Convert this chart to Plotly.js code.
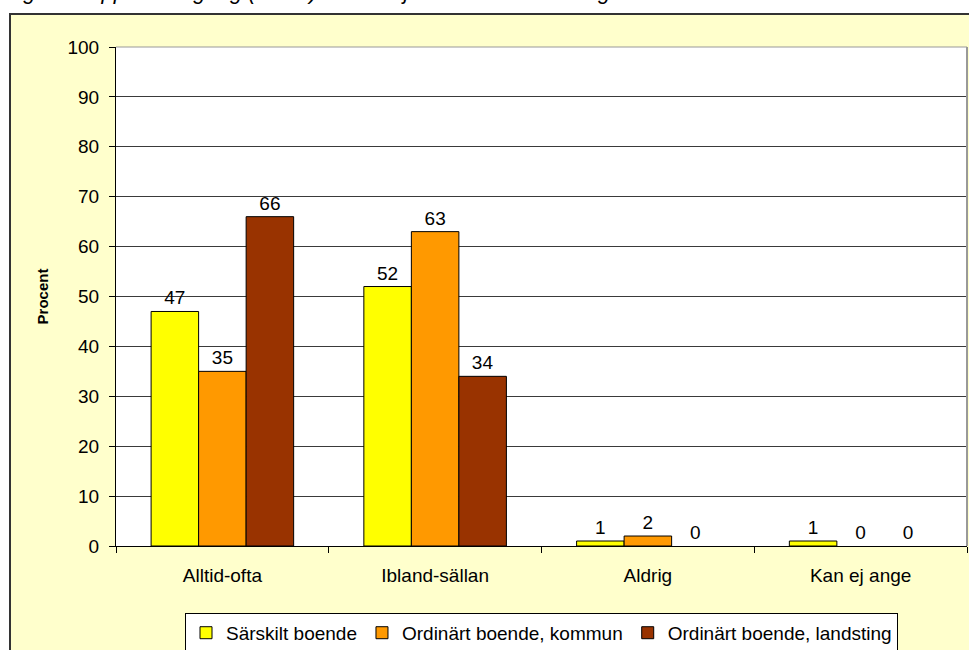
<!DOCTYPE html>
<html>
<head>
<meta charset="utf-8">
<script src="https://cdn.plot.ly/plotly-3.0.1.min.js"></script>
<style>
html,body{margin:0;padding:0;background:#fff;overflow:hidden;}
#wrap{position:relative;width:969px;height:650px;overflow:hidden;}
#frame{position:absolute;left:9px;top:13px;width:980px;height:660px;background:#FFFFCC;border:2px solid #333;box-sizing:border-box;}
#chart{position:absolute;left:0;top:0;width:969px;height:720px;}
</style>
</head>
<body>
<div id="wrap">
<div id="frame"></div>
<div id="chart"></div>
</div>
<script>
const categories = ["Alltid-ofta", "Ibland-sällan", "Aldrig", "Kan ej ange"];
const seriesNames = ["Särskilt boende", "Ordinärt boende, kommun", "Ordinärt boende, landsting"];
const serSarskilt = [47, 52, 1, 1];
const serKommun = [35, 63, 2, 0];
const serLandsting = [66, 34, 0, 0];
const colors = ["#FFFF00", "#FF9900", "#993300"];
const yTicks = [0,10,20,30,40,50,60,70,80,90,100];

const allSeries = [serSarskilt, serKommun, serLandsting];
const traces = allSeries.map((vals, i) => ({
  type: "bar",
  name: seriesNames[i],
  x: categories,
  y: vals,
  text: vals.map(String),
  textposition: "outside",
  cliponaxis: false,
  textfont: {family: "Liberation Sans, Arial, sans-serif", size: 19, color: "#000"},
  marker: {color: colors[i], line: {color: "#000", width: vals.map(v => v === 0 ? 0 : 1)}},
  hoverinfo: "x+y+name"
}));

const layout = {
  width: 969, height: 720,
  paper_bgcolor: "rgba(0,0,0,0)",
  plot_bgcolor: "#FFFFFF",
  margin: {l: 116, r: 2, t: 47, b: 174, pad: 0},
  barmode: "group",
  bargap: 0.33,
  bargroupgap: 0,
  font: {family: "Liberation Sans, Arial, sans-serif", size: 19, color: "#000"},
  showlegend: true,
  legend: {
    orientation: "h", x: 0.5, xanchor: "center", y: -0.134, yanchor: "top",
    bgcolor: "#FFFFFF", bordercolor: "#000", borderwidth: 1,
    font: {size: 19}, traceorder: "normal", itemwidth: 30
  },
  xaxis: {
    type: "category", automargin: false,
    showline: true, linecolor: "#000", linewidth: 1,
    ticks: "outside", tickson: "boundaries", ticklen: 6, tickcolor: "#000",
    showgrid: false, tickfont: {size: 19}, mirror: false,
    ticklabelstandoff: 12
  },
  yaxis: {
    range: [0, 100], tickvals: yTicks, ticktext: yTicks.map(String),
    automargin: false,
    showline: true, linecolor: "#000", linewidth: 1,
    ticks: "outside", ticklen: 6, tickcolor: "#000",
    showgrid: true, gridcolor: "#3a3a3a", gridwidth: 1,
    zeroline: false, tickfont: {size: 19},
    ticklabelstandoff: 6,
    title: {text: "<b>Procent</b>", font: {size: 15}, standoff: 15}
  },
  shapes: [
    {type: "line", xref: "paper", yref: "paper", x0: 0, x1: 1, y0: 1, y1: 1, line: {color: "#999", width: 1}},
    {type: "line", xref: "paper", yref: "paper", x0: 1, x1: 1, y0: 0, y1: 1, line: {color: "#999", width: 2}}
  ],
  annotations: [
    {text: "<i>Figur 6. Upplevd tillgång (andel) till hemsjukvård under vardagar 2005–2006</i>",
     xref: "paper", yref: "paper", x: -0.133, xanchor: "left", y: 1.112, yanchor: "middle",
     showarrow: false, font: {size: 22, color: "#000"}}
  ]
};

Plotly.newPlot("chart", traces, layout, {displayModeBar: false, staticPlot: true});
</script>
</body>
</html>
